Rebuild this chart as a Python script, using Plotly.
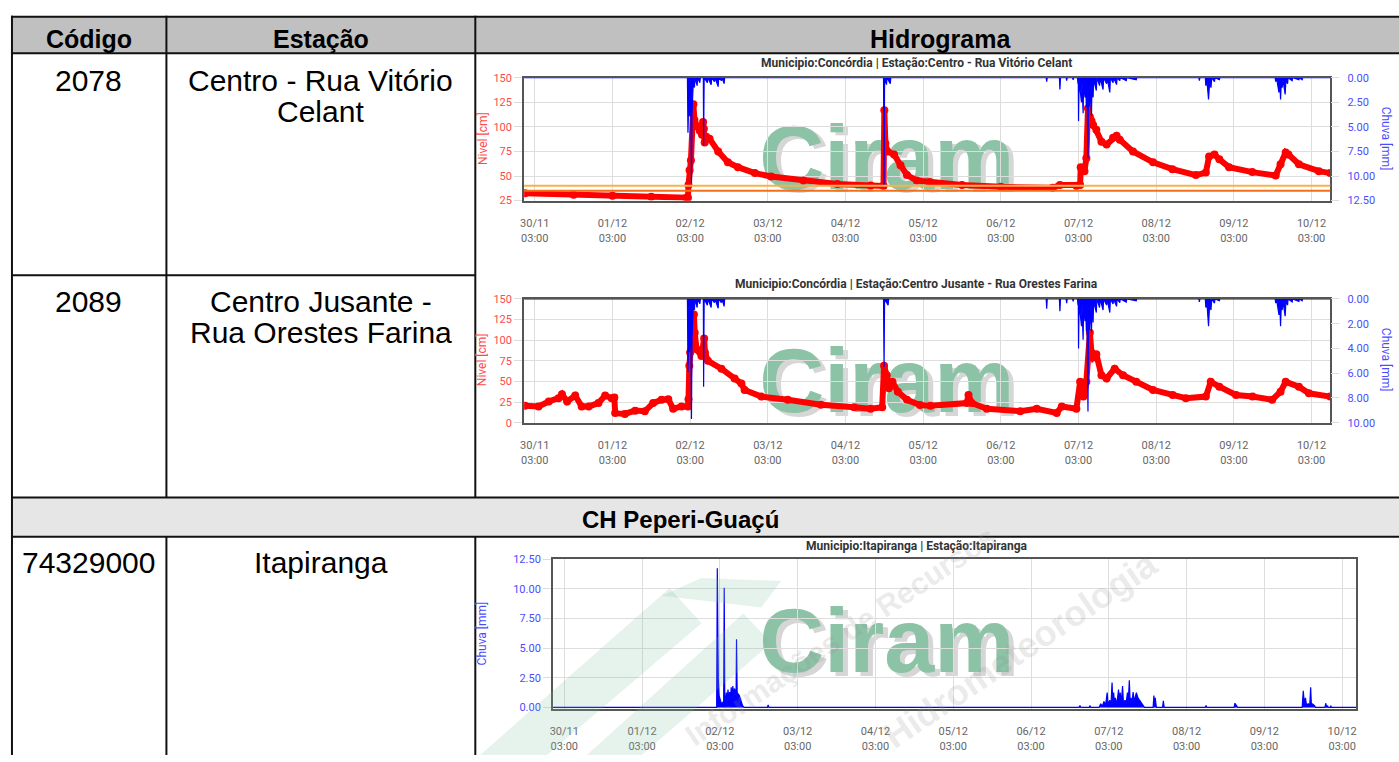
import plotly.graph_objects as go

W, H = 1399, 762

# ---------------- table text ----------------
header_labels = ["Código", "Estação", "Hidrograma"]
station_codes = ["2078", "2089", "74329000"]
station_names = [["Centro - Rua Vitório", "Celant"],
                 ["Centro Jusante -", "Rua Orestes Farina"],
                 ["Itapiranga"]]
section_label = "CH Peperi-Guaçú"
chart_titles = ["Municipio:Concórdia | Estação:Centro - Rua Vitório Celant",
                "Municipio:Concórdia | Estação:Centro Jusante - Rua Orestes Farina",
                "Municipio:Itapiranga | Estação:Itapiranga"]
level_axis_title = "Nivel [cm]"
rain_axis_title = "Chuva [mm]"
watermark_text = "Ciram"

YEAR = "2023-"
tick_days = ["30/11", "01/12", "02/12", "03/12", "04/12", "05/12",
             "06/12", "07/12", "08/12", "09/12", "10/12"]
tick_stamps = ["11-30 03:00", "12-01 03:00", "12-02 03:00", "12-03 03:00", "12-04 03:00",
               "12-05 03:00", "12-06 03:00", "12-07 03:00", "12-08 03:00", "12-09 03:00",
               "12-10 03:00"]
tick_hour = "03:00"

# alert levels chart 1 (cm)
alert_levels_1 = [40, 35]

# ---------------- chart 1: Centro - Rua Vitório Celant (time, cm) ----------------
level1 = [("11-30 00:00", 32.5), ("11-30 15:00", 31), ("12-01 03:00", 30), ("12-01 15:00", 29),
          ("12-02 01:50", 28), ("12-02 02:20", 28), ("12-02 02:30", 41), ("12-02 02:50", 56),
          ("12-02 03:15", 66), ("12-02 04:00", 123), ("12-02 04:20", 107), ("12-02 05:00", 101),
          ("12-02 06:00", 96), ("12-02 06:40", 92), ("12-02 07:00", 105), ("12-02 07:15", 98),
          ("12-02 07:30", 84), ("12-02 08:00", 90), ("12-02 09:00", 88), ("12-02 11:40", 75),
          ("12-02 14:40", 64), ("12-02 17:45", 59), ("12-02 23:00", 53), ("12-03 04:00", 49.5),
          ("12-03 14:00", 45.5), ("12-04 00:30", 42), ("12-04 10:45", 40.5), ("12-04 14:45", 40),
          ("12-04 15:00", 117), ("12-04 15:20", 83), ("12-04 16:00", 75), ("12-04 18:00", 72),
          ("12-04 20:00", 61), ("12-04 22:00", 51), ("12-05 01:00", 45.5), ("12-05 05:00", 44),
          ("12-05 15:00", 41), ("12-06 03:00", 39), ("12-06 19:00", 38), ("12-06 21:15", 41),
          ("12-07 02:20", 40), ("12-07 03:30", 41), ("12-07 03:40", 59), ("12-07 04:50", 55),
          ("12-07 05:25", 68), ("12-07 05:55", 119), ("12-07 06:30", 110), ("12-07 07:00", 106),
          ("12-07 07:30", 102), ("12-07 08:30", 97), ("12-07 10:05", 85), ("12-07 11:40", 82),
          ("12-07 13:40", 89), ("12-07 14:45", 91), ("12-07 15:45", 87), ("12-07 19:50", 75),
          ("12-08 02:00", 64), ("12-08 08:00", 57), ("12-08 15:15", 51), ("12-08 18:20", 53.5),
          ("12-08 19:20", 70), ("12-08 21:00", 72), ("12-08 22:30", 67), ("12-09 01:30", 59),
          ("12-09 08:40", 54), ("12-09 15:55", 50.5), ("12-09 17:25", 62), ("12-09 19:00", 74),
          ("12-09 19:50", 72), ("12-09 23:05", 62), ("12-10 05:15", 55), ("12-10 08:45", 53)]

rain1 = [("11-29 23:43", 0), ("12-02 02:10", 0), ("12-02 02:20", 5.6), ("12-02 02:30", 3.2),
         ("12-02 02:45", 3.9), ("12-02 03:00", 2.8), ("12-02 03:15", 4.0), ("12-02 03:25", 10.7),
         ("12-02 03:35", 3.5), ("12-02 03:50", 2.0), ("12-02 04:00", 0.3), ("12-02 04:20", 1.0),
         ("12-02 04:30", 0), ("12-02 05:10", 0.8), ("12-02 05:20", 0), ("12-02 06:00", 0.5),
         ("12-02 06:10", 0), ("12-02 07:05", 0), ("12-02 07:10", 6.9), ("12-02 07:20", 0),
         ("12-02 08:20", 0.5), ("12-02 08:30", 0), ("12-02 09:30", 0.7), ("12-02 09:40", 0),
         ("12-02 10:30", 0.4), ("12-02 10:40", 0), ("12-02 11:40", 0.9), ("12-02 11:50", 0),
         ("12-02 12:40", 0.3), ("12-02 12:50", 0), ("12-02 13:30", 0.6), ("12-02 13:40", 0),
         ("12-04 14:45", 0), ("12-04 14:55", 10.9), ("12-04 15:05", 0), ("12-04 15:40", 0.7),
         ("12-04 15:50", 0), ("12-04 16:50", 0.6), ("12-04 17:00", 0), ("12-06 17:00", 0),
         ("12-06 17:10", 0.4), ("12-06 17:20", 0), ("12-06 21:05", 0), ("12-06 21:15", 1.2),
         ("12-06 21:25", 0), ("12-06 23:10", 0), ("12-06 23:20", 0.3), ("12-06 23:30", 0),
         ("12-07 01:10", 0), ("12-07 01:20", 0.2), ("12-07 01:30", 0), ("12-07 02:40", 0),
         ("12-07 02:50", 0.6), ("12-07 02:55", 0), ("12-07 03:00", 4.4), ("12-07 03:10", 0.3),
         ("12-07 03:55", 2.5), ("12-07 04:05", 0.4), ("12-07 04:25", 3.6), ("12-07 04:35", 0.5),
         ("12-07 05:00", 2.0), ("12-07 05:10", 0.4), ("12-07 05:25", 3.0), ("12-07 05:35", 0.6),
         ("12-07 05:55", 8.2), ("12-07 06:05", 0.8), ("12-07 06:25", 2.9), ("12-07 06:35", 0.5),
         ("12-07 07:00", 3.9), ("12-07 07:10", 0.4), ("12-07 07:30", 2.0), ("12-07 07:40", 0.2),
         ("12-07 08:30", 1.3), ("12-07 08:40", 0), ("12-07 09:30", 0.8), ("12-07 09:40", 0),
         ("12-07 10:35", 1.2), ("12-07 10:45", 0), ("12-07 11:40", 0.6), ("12-07 11:50", 0),
         ("12-07 12:40", 1.5), ("12-07 12:50", 0), ("12-07 13:40", 0.5), ("12-07 13:50", 0),
         ("12-07 14:45", 0.7), ("12-07 14:55", 0), ("12-07 15:45", 0.3), ("12-07 15:55", 0),
         ("12-07 17:45", 0.3), ("12-07 17:55", 0), ("12-07 20:50", 0.2), ("12-07 21:00", 0),
         ("12-08 16:10", 0), ("12-08 16:20", 0.3), ("12-08 16:30", 0), ("12-08 18:10", 0),
         ("12-08 18:20", 0.8), ("12-08 18:40", 0.3), ("12-08 19:10", 2.2), ("12-08 19:30", 0.4),
         ("12-08 19:55", 1.0), ("12-08 20:10", 0), ("12-08 21:00", 0.4), ("12-08 21:10", 0),
         ("12-08 22:30", 0.2), ("12-08 22:40", 0), ("12-09 15:45", 0), ("12-09 15:55", 0.4),
         ("12-09 16:10", 0), ("12-09 16:55", 1.5), ("12-09 17:10", 0.3), ("12-09 17:25", 2.2),
         ("12-09 17:40", 0.3), ("12-09 17:55", 1.0), ("12-09 18:10", 0.2), ("12-09 18:50", 1.7),
         ("12-09 19:05", 0.2), ("12-09 19:35", 0.6), ("12-09 19:45", 0), ("12-09 21:00", 0.3),
         ("12-09 21:10", 0), ("12-09 23:05", 0.2), ("12-09 23:15", 0), ("12-10 00:05", 0.2),
         ("12-10 00:15", 0), ("12-10 08:46", 0)]

# ---------------- chart 2: Centro Jusante - Rua Orestes Farina (time, cm) ----------------
level2 = [("11-30 00:00", 20.6), ("11-30 04:10", 19.8), ("11-30 07:20", 25.8), ("11-30 10:20", 29.8),
          ("11-30 11:25", 34.5), ("11-30 13:00", 25.8), ("11-30 15:30", 33), ("11-30 17:30", 19.8),
          ("11-30 19:40", 19.8), ("11-30 22:40", 23.8), ("12-01 00:45", 33), ("12-01 02:45", 29.8),
          ("12-01 03:35", 30.5), ("12-01 03:50", 11.9), ("12-01 06:50", 10.7), ("12-01 10:00", 14.7),
          ("12-01 13:00", 13.9), ("12-01 15:35", 23.8), ("12-01 18:10", 27.8), ("12-01 20:15", 28.6),
          ("12-01 21:45", 17), ("12-02 00:20", 19.8), ("12-02 02:20", 19.8), ("12-02 02:30", 28.6),
          ("12-02 02:45", 69), ("12-02 03:00", 85), ("12-02 04:10", 131), ("12-02 04:25", 109),
          ("12-02 05:00", 89), ("12-02 06:30", 81), ("12-02 07:20", 102), ("12-02 07:35", 85),
          ("12-02 08:30", 75), ("12-02 12:40", 65.5), ("12-02 16:45", 53.6), ("12-02 18:50", 47.6),
          ("12-02 19:50", 39.7), ("12-03 01:00", 31.7), ("12-03 09:10", 27.8), ("12-03 19:25", 21.8),
          ("12-04 05:40", 18.7), ("12-04 10:45", 17), ("12-04 14:20", 18.7), ("12-04 14:55", 69),
          ("12-04 15:45", 57.5), ("12-04 16:25", 41.7), ("12-04 17:30", 49.6), ("12-04 19:10", 37.7),
          ("12-04 22:00", 27.8), ("12-05 02:00", 21.5), ("12-05 05:15", 20.5), ("12-05 16:30", 23.8),
          ("12-05 17:00", 33.7), ("12-05 18:00", 24), ("12-05 22:40", 17), ("12-06 09:00", 13.9),
          ("12-06 14:05", 17), ("12-06 20:15", 11.9), ("12-06 21:50", 19.8), ("12-07 02:20", 17),
          ("12-07 03:30", 49.6), ("12-07 04:30", 31.7), ("12-07 05:25", 49.6), ("12-07 06:30", 109),
          ("12-07 07:00", 85), ("12-07 07:30", 79), ("12-07 08:30", 83), ("12-07 10:05", 57.5),
          ("12-07 11:40", 53.6), ("12-07 14:10", 65.5), ("12-07 16:45", 57.5), ("12-07 20:50", 49.6),
          ("12-08 02:00", 39.7), ("12-08 08:05", 33.7), ("12-08 12:10", 29.8), ("12-08 18:20", 31.7),
          ("12-08 19:50", 49.6), ("12-08 22:30", 43.7), ("12-09 03:40", 33.7), ("12-09 08:45", 31.7),
          ("12-09 14:50", 27.8), ("12-09 17:25", 37.7), ("12-09 19:00", 49.6), ("12-09 23:05", 43.7),
          ("12-10 02:10", 35.7), ("12-10 08:45", 31.7)]

rain2 = [("11-29 23:43", 0), ("12-02 02:10", 0), ("12-02 02:20", 5.9), ("12-02 02:30", 3.5),
         ("12-02 02:45", 4.3), ("12-02 03:00", 3.0), ("12-02 03:15", 4.0), ("12-02 03:25", 9.7),
         ("12-02 03:35", 3.2), ("12-02 03:50", 1.8), ("12-02 04:00", 0.3), ("12-02 04:20", 0.9),
         ("12-02 04:30", 0), ("12-02 05:10", 0.7), ("12-02 05:20", 0), ("12-02 06:00", 0.4),
         ("12-02 06:10", 0), ("12-02 07:05", 0), ("12-02 07:10", 7.1), ("12-02 07:20", 0),
         ("12-02 08:20", 0.5), ("12-02 08:30", 0), ("12-02 09:30", 0.7), ("12-02 09:40", 0),
         ("12-02 10:30", 0.3), ("12-02 10:40", 0), ("12-02 11:40", 0.75), ("12-02 11:50", 0),
         ("12-02 12:40", 0.3), ("12-02 12:50", 0), ("12-02 13:30", 0.6), ("12-02 13:40", 0),
         ("12-04 14:45", 0), ("12-04 14:55", 5.5), ("12-04 15:05", 0), ("12-04 16:10", 0.5),
         ("12-04 16:20", 0), ("12-06 17:00", 0), ("12-06 17:10", 0.8), ("12-06 17:20", 0),
         ("12-06 21:05", 0), ("12-06 21:15", 1.0), ("12-06 21:25", 0), ("12-06 23:10", 0),
         ("12-06 23:20", 0.35), ("12-06 23:30", 0), ("12-07 01:10", 0), ("12-07 01:20", 0.2),
         ("12-07 01:30", 0), ("12-07 02:40", 0), ("12-07 02:50", 0.5), ("12-07 02:55", 0),
         ("12-07 03:00", 4.0), ("12-07 03:10", 0.3), ("12-07 03:55", 2.2), ("12-07 04:05", 0.4),
         ("12-07 04:25", 3.3), ("12-07 04:35", 0.5), ("12-07 05:00", 1.8), ("12-07 05:10", 0.4),
         ("12-07 05:25", 2.6), ("12-07 05:35", 0.6), ("12-07 05:55", 9.1), ("12-07 06:05", 0.7),
         ("12-07 06:25", 2.5), ("12-07 06:35", 0.5), ("12-07 07:00", 2.7), ("12-07 07:10", 0.4),
         ("12-07 07:30", 1.9), ("12-07 07:40", 0.2), ("12-07 08:30", 1.1), ("12-07 08:40", 0),
         ("12-07 09:30", 0.7), ("12-07 09:40", 0), ("12-07 10:35", 0.9), ("12-07 10:45", 0),
         ("12-07 11:40", 0.5), ("12-07 11:50", 0), ("12-07 12:40", 1.1), ("12-07 12:50", 0),
         ("12-07 13:40", 0.4), ("12-07 13:50", 0), ("12-07 14:45", 0.6), ("12-07 14:55", 0),
         ("12-07 15:45", 0.3), ("12-07 15:55", 0), ("12-07 17:45", 0.25), ("12-07 17:55", 0),
         ("12-07 20:50", 0.15), ("12-07 21:00", 0), ("12-08 16:10", 0), ("12-08 16:20", 0.25),
         ("12-08 16:30", 0), ("12-08 18:10", 0), ("12-08 18:20", 0.7), ("12-08 18:40", 0.3),
         ("12-08 19:10", 2.2), ("12-08 19:30", 0.4), ("12-08 19:55", 0.9), ("12-08 20:10", 0),
         ("12-08 21:00", 0.35), ("12-08 21:10", 0), ("12-08 22:30", 0.15), ("12-08 22:40", 0),
         ("12-09 15:45", 0), ("12-09 15:55", 0.35), ("12-09 16:10", 0), ("12-09 16:55", 1.3),
         ("12-09 17:10", 0.3), ("12-09 17:25", 2.2), ("12-09 17:40", 0.3), ("12-09 17:55", 0.9),
         ("12-09 18:10", 0.2), ("12-09 18:50", 1.4), ("12-09 19:05", 0.2), ("12-09 19:35", 0.5),
         ("12-09 19:45", 0), ("12-09 21:00", 0.25), ("12-09 21:10", 0), ("12-09 23:05", 0.2),
         ("12-09 23:15", 0), ("12-10 00:05", 0.15), ("12-10 00:15", 0), ("12-10 08:46", 0)]

# ---------------- chart 3: Itapiranga, rain only (time, mm) ----------------
rain3 = [("11-29 23:31", 0), ("12-02 02:00", 0), ("12-02 02:12", 11.75), ("12-02 02:20", 4.3),
         ("12-02 02:30", 2.4), ("12-02 02:45", 1.0), ("12-02 03:30", 0.3), ("12-02 04:10", 0.5),
         ("12-02 04:20", 10.1), ("12-02 04:30", 1.1), ("12-02 04:45", 0.4), ("12-02 05:00", 1.25),
         ("12-02 05:15", 0.5), ("12-02 05:30", 1.5), ("12-02 05:45", 0.6), ("12-02 06:00", 1.3),
         ("12-02 06:15", 0.6), ("12-02 06:30", 1.7), ("12-02 06:45", 0.7), ("12-02 07:00", 1.8),
         ("12-02 07:15", 0.8), ("12-02 07:30", 1.6), ("12-02 08:00", 1.0), ("12-02 08:08", 5.75),
         ("12-02 08:20", 1.25), ("12-02 09:00", 1.0), ("12-02 09:30", 0.55), ("12-02 10:00", 0.15),
         ("12-02 10:30", 0), ("12-02 17:40", 0), ("12-02 17:53", 0.2), ("12-02 18:10", 0),
         ("12-06 17:50", 0), ("12-06 18:06", 0.15), ("12-06 18:20", 0), ("12-06 21:00", 0),
         ("12-06 21:10", 0.15), ("12-06 21:25", 0), ("12-07 00:00", 0), ("12-07 00:30", 0.3),
         ("12-07 01:00", 0.1), ("12-07 01:30", 0.5), ("12-07 02:00", 0.2), ("12-07 02:30", 1.25),
         ("12-07 02:45", 0.3), ("12-07 03:20", 0.6), ("12-07 03:40", 0.2), ("12-07 04:00", 2.1),
         ("12-07 04:15", 0.3), ("12-07 04:30", 1.25), ("12-07 04:45", 0.3), ("12-07 05:00", 0.8),
         ("12-07 05:30", 0.3), ("12-07 06:00", 1.5), ("12-07 06:15", 0.4), ("12-07 06:30", 1.25),
         ("12-07 06:50", 0.4), ("12-07 07:15", 1.8), ("12-07 07:30", 0.4), ("12-07 08:00", 0.6),
         ("12-07 08:20", 0.3), ("12-07 08:45", 1.25), ("12-07 09:00", 0.4), ("12-07 09:20", 2.3),
         ("12-07 09:35", 0.4), ("12-07 09:50", 0.8), ("12-07 10:10", 0.4), ("12-07 10:30", 1.3),
         ("12-07 10:50", 0.5), ("12-07 11:30", 1.25), ("12-07 12:00", 0.8), ("12-07 13:00", 0.4),
         ("12-07 13:30", 0.3), ("12-07 14:00", 0), ("12-07 16:40", 0), ("12-07 16:55", 1.0),
         ("12-07 17:05", 0.2), ("12-07 17:20", 0.8), ("12-07 17:40", 0), ("12-07 19:35", 0),
         ("12-07 19:50", 0.55), ("12-07 20:05", 0), ("12-08 08:45", 0), ("12-08 09:00", 0.15),
         ("12-08 09:15", 0), ("12-08 17:40", 0), ("12-08 17:55", 0.35), ("12-08 18:30", 0.1),
         ("12-08 18:45", 0), ("12-09 14:40", 0), ("12-09 15:00", 1.4), ("12-09 15:20", 0.3),
         ("12-09 15:40", 0.8), ("12-09 16:00", 0.2), ("12-09 16:30", 0.3), ("12-09 17:00", 0.2),
         ("12-09 17:17", 1.7), ("12-09 17:30", 0.2), ("12-09 17:45", 0.3), ("12-09 18:30", 0.15),
         ("12-09 18:45", 0), ("12-09 21:40", 0), ("12-09 21:58", 0.35), ("12-09 22:10", 0),
         ("12-09 22:30", 0.15), ("12-09 22:40", 0), ("12-09 23:20", 0), ("12-09 23:30", 0.15),
         ("12-09 23:40", 0), ("12-10 07:19", 0)]


def unzip(pairs):
    return [YEAR + p[0] for p in pairs], [p[1] for p in pairs]


def fx(x):
    return x / W


def fy(y):
    return 1 - y / H


RED = "#ff0000"
BLUE = "#0000ff"
TICK_RED = "#ff4a4a"
TICK_BLUE = "#4c4cff"
FRAME = "#555555"
GRID = "#dddddd"
TICKFONT = dict(family="Roboto", size=11, color="#666666")

# chart plot areas in pixels (left, right, top, bottom)
boxes = [(522, 1331, 73, 198), (522, 1331, 298, 424), (551, 1357, 563, 715)]
x_ranges = [[YEAR + "11-29 23:43", YEAR + "12-10 08:46"],
            [YEAR + "11-29 23:43", YEAR + "12-10 08:46"],
            [YEAR + "11-29 23:31", YEAR + "12-10 07:19"]]

fig = go.Figure()


def rain_trace(pairs, xa, ya):
    x, y = unzip(pairs)
    return go.Scatter(x=x, y=y, xaxis=xa, yaxis=ya, mode="lines",
                      line=dict(color=BLUE, width=1.2), fill="tozeroy", fillcolor=BLUE,
                      hoverinfo="skip")


def level_trace(pairs, xa, ya):
    x, y = unzip(pairs)
    return go.Scatter(x=x, y=y, xaxis=xa, yaxis=ya, mode="lines+markers",
                      line=dict(color=RED, width=6), marker=dict(color=RED, size=8))


fig.add_trace(rain_trace(rain1, "x", "y2"))
fig.add_trace(level_trace(level1, "x", "y"))
fig.add_trace(rain_trace(rain2, "x2", "y4"))
fig.add_trace(level_trace(level2, "x2", "y3"))
fig.add_trace(rain_trace(rain3, "x3", "y5"))

layout = dict(width=W, height=H, margin=dict(l=0, r=0, t=0, b=0),
              paper_bgcolor="white", plot_bgcolor="rgba(0,0,0,0)", showlegend=False,
              font=dict(family="Roboto"))

ynames_main = ["y", "y3", "y5"]
tvals = [YEAR + s for s in tick_stamps]
for i, (l, r, t, b) in enumerate(boxes):
    xa = "xaxis" if i == 0 else "xaxis%d" % (i + 1)
    xo = "xaxis%d" % (i + 4)
    xref = "x" if i == 0 else "x%d" % (i + 1)
    layout[xa] = dict(domain=[fx(l), fx(r)], range=x_ranges[i], type="date", anchor=ynames_main[i],
                      tickmode="array", tickvals=tvals, ticktext=tick_days,
                      showgrid=True, gridcolor=GRID, gridwidth=1, zeroline=False,
                      showline=True, linecolor=FRAME, linewidth=2, mirror=True,
                      ticks="", tickfont=TICKFONT, ticklabelstandoff=11)
    layout[xo] = dict(overlaying=xref, range=x_ranges[i], type="date", anchor=ynames_main[i],
                      side="bottom", tickmode="array", tickvals=tvals,
                      ticktext=[tick_hour] * len(tvals), showgrid=False, showline=False,
                      zeroline=False, ticks="", tickfont=TICKFONT, ticklabelstandoff=29)
    # empty carrier so the overlaid hour-label axis gets drawn
    fig.add_trace(go.Scatter(x=[tvals[0]], y=[None], xaxis="x%d" % (i + 4), yaxis=ynames_main[i],
                             mode="lines", hoverinfo="skip", showlegend=False))

common_y = dict(showgrid=True, gridcolor=GRID, zeroline=False, showline=True, linecolor=FRAME,
                linewidth=2, mirror=True, ticks="outside", ticklen=8, tickcolor=GRID)
layout["yaxis"] = dict(domain=[fy(198), fy(73)], range=[25, 150], tick0=25, dtick=25, anchor="x",
                       tickfont=dict(family="Roboto", size=11, color=TICK_RED), **common_y)
layout["yaxis2"] = dict(overlaying="y", side="right", anchor="x", range=[12.5, 0], tick0=0, dtick=2.5,
                        tickformat=".2f", showgrid=False, zeroline=False, showline=False,
                        ticks="outside", ticklen=8, tickcolor=GRID,
                        tickfont=dict(family="Roboto", size=11, color=TICK_BLUE), ticklabelstandoff=6)
layout["yaxis3"] = dict(domain=[fy(424), fy(298)], range=[0, 150], tick0=0, dtick=25, anchor="x2",
                        tickfont=dict(family="Roboto", size=11, color=TICK_RED), **common_y)
layout["yaxis4"] = dict(overlaying="y3", side="right", anchor="x2", range=[10, 0], tick0=0, dtick=2,
                        tickformat=".2f", showgrid=False, zeroline=False, showline=False,
                        ticks="outside", ticklen=8, tickcolor=GRID,
                        tickfont=dict(family="Roboto", size=11, color=TICK_BLUE), ticklabelstandoff=6)
layout["yaxis5"] = dict(domain=[fy(715), fy(563)], range=[-0.12, 12.5], tick0=0, dtick=2.5,
                        tickformat=".2f", anchor="x3",
                        tickfont=dict(family="Roboto", size=11, color=TICK_BLUE), **common_y)

# ---------------- shapes: table ----------------
shapes = []
BLACK = "#111111"


def rect(x0, y0, x1, y1, fill):
    shapes.append(dict(type="rect", xref="paper", yref="paper", x0=fx(x0), x1=fx(x1),
                       y0=fy(y1), y1=fy(y0), fillcolor=fill, line=dict(width=0), layer="below"))


def hline(y, x0, x1, w=2):
    shapes.append(dict(type="line", xref="paper", yref="paper", x0=fx(x0), x1=fx(x1),
                       y0=fy(y), y1=fy(y), line=dict(color=BLACK, width=w)))


def vline(x, y0, y1, w=2):
    shapes.append(dict(type="line", xref="paper", yref="paper", x0=fx(x), x1=fx(x),
                       y0=fy(y0), y1=fy(y1), line=dict(color=BLACK, width=w)))


def band(points, fill):
    path = "M " + " L ".join("%.5f,%.5f" % (fx(a), fy(b)) for a, b in points) + " Z"
    shapes.append(dict(type="path", xref="paper", yref="paper", path=path, fillcolor=fill,
                       line=dict(width=0), layer="above"))


rect(8, 11, 1400, 48, "#c0c0c0")
rect(8, 500, 1400, 540, "#e6e6e6")
hline(11, 7, 1400)
hline(48, 7, 1400)
hline(274, 7, 473)
hline(500, 7, 1400)
hline(540, 7, 1400)
vline(8, 10, 762)
vline(163, 10, 500)
vline(163, 540, 762)
vline(473, 10, 500)
vline(473, 540, 762)

# alert levels on chart 1
for lvl, col in zip(alert_levels_1, ["#f7b24a", "#f36f1a"]):
    shapes.append(dict(type="line", xref="x domain", yref="y", x0=0, x1=1, y0=lvl, y1=lvl,
                       line=dict(color=col, width=2)))

# Ciram watermark behind the data
for cy in [145, 372, 637]:
    cx = 886
    for dx, dy, col in [(5, 4, "#d6d6d6"), (0, 0, "#8cc2a6")]:
        shapes.append(dict(type="rect", xref="paper", yref="paper",
                           x0=fx(cx - 160 + dx), x1=fx(cx + 160 + dx),
                           y0=fy(cy + 50 + dy), y1=fy(cy - 50 + dy),
                           line=dict(width=0), fillcolor="rgba(0,0,0,0)", layer="below",
                           label=dict(text="<b>%s</b>" % watermark_text, textposition="middle center",
                                      font=dict(family="Liberation Sans", size=90, color=col))))

# faint diagonal logo strokes of the page watermark (lower area)
WM_GREEN = "rgba(130,190,160,0.2)"
band([(478, 762), (545, 762), (700, 628), (668, 592)], WM_GREEN)
band([(585, 762), (640, 762), (770, 648), (742, 618)], WM_GREEN)
band([(660, 600), (700, 582), (780, 585), (760, 612)], WM_GREEN)
layout["shapes"] = shapes

# ---------------- annotations ----------------
ann = []


def text(x, y, s, size, bold=False, color="black", family="Liberation Sans", angle=0):
    ann.append(dict(xref="paper", yref="paper", x=fx(x), y=fy(y), text=("<b>%s</b>" % s) if bold else s,
                    showarrow=False, xanchor="center", yanchor="middle", textangle=angle,
                    font=dict(family=family, size=size, color=color)))


col_centers = [85, 318, 940]
for cxp, lab in zip(col_centers, header_labels):
    text(cxp, 34, lab, 25, bold=True)

row_tops = [76, 301, 566]
for code, name_lines, ytop in zip(station_codes, station_names, row_tops):
    text(85, ytop, code, 30)
    for k, ln in enumerate(name_lines):
        text(318, ytop + 31 * k, ln, 30)

text(679, 522, section_label, 24, bold=True)

for title, ty in zip(chart_titles, [58, 283, 549]):
    text(916, ty, title, 12, bold=True, color="#333333", family="Roboto")

text(480, 135, level_axis_title, 12, color=TICK_RED, family="Roboto", angle=-90)
text(1387, 135, rain_axis_title, 12, color=TICK_BLUE, family="Roboto", angle=90)
text(480, 360, level_axis_title, 12, color=TICK_RED, family="Roboto", angle=-90)
text(1387, 360, rain_axis_title, 12, color=TICK_BLUE, family="Roboto", angle=90)
text(480, 638, rain_axis_title, 12, color=TICK_BLUE, family="Roboto", angle=-90)

# faint diagonal watermark words in the lower area
text(840, 640, "Informações de Recursos", 30, bold=True, color="rgba(150,150,150,0.2)", angle=-34)
text(1020, 655, "Hidrometeorologia", 36, bold=True, color="rgba(150,150,150,0.2)", angle=-34)

layout["annotations"] = ann
fig.update_layout(layout)
fig.write_html("out.html", config={"displayModeBar": False},
               post_script="document.body.style.margin='0';document.body.style.overflow='hidden';")
